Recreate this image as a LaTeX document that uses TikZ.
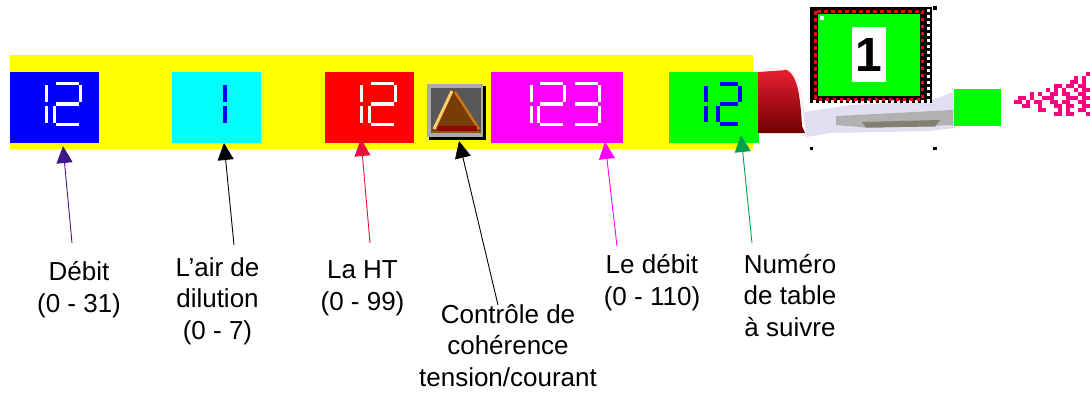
\documentclass[tikz,border=0pt]{standalone}
\usepackage{fontspec}
\setmainfont{Liberation Sans}
\usetikzlibrary{arrows.meta,calc}

\definecolor{bandyellow}{RGB}{255,255,0}
\definecolor{lcdblue}{RGB}{0,0,255}
\definecolor{lcdcyan}{RGB}{0,255,255}
\definecolor{lcdred}{RGB}{255,0,0}
\definecolor{lcdmagenta}{RGB}{255,0,255}
\definecolor{lcdgreen}{RGB}{0,255,0}
\definecolor{arrpurple}{RGB}{64,24,140}
\definecolor{arrred}{RGB}{230,16,60}
\definecolor{arrgreen}{RGB}{0,160,80}
\definecolor{pixpink}{RGB}{255,0,128}
\definecolor{btnlight}{RGB}{170,170,170}
\definecolor{btndark}{RGB}{88,88,88}
\definecolor{pyrbrown}{RGB}{122,60,6}
\definecolor{pyrlight}{RGB}{250,206,110}
\definecolor{pyrorange}{RGB}{200,120,24}
\definecolor{pyrred}{RGB}{150,0,0}
\definecolor{capred}{RGB}{232,30,50}
\definecolor{capdark}{RGB}{110,0,0}
\definecolor{penpale}{RGB}{226,221,240}
\definecolor{pengrey}{RGB}{178,176,176}
\definecolor{pendark}{RGB}{130,128,112}

% seven-segment display digits: cell height 44, width \lw, bar thickness \lt
\newcommand\lcdsega{\fill (\lt,0) rectangle (\lw-\lt,\lt);}
\newcommand\lcdsegb{\fill (\lw-\lt,\lt) rectangle (\lw,22-\lt/2);}
\newcommand\lcdsegc{\fill (\lw-\lt,22+\lt/2) rectangle (\lw,44-\lt);}
\newcommand\lcdsegd{\fill (\lt,44-\lt) rectangle (\lw-\lt,44);}
\newcommand\lcdsege{\fill (0,22+\lt/2) rectangle (\lt,44-\lt);}
\newcommand\lcdsegf{\fill (0,\lt) rectangle (\lt,22-\lt/2);}
\newcommand\lcdsegg{\fill (\lt,22-\lt/2) rectangle (\lw-\lt,22+\lt/2);}
% #1 left x, #2 width, #3 thickness, #4 segment list, #5 colour
\newcommand\lcddigit[5]{%
  \begin{scope}[shift={(#1,82)},fill=#5]
    \def\lw{#2}\def\lt{#3}%
    \foreach \s in {#4}{\csname lcdseg\s\endcsname}
  \end{scope}}

\begin{document}
\begin{tikzpicture}[x=1pt,y=-1pt,
  display/.style={draw=none,inner sep=0,minimum width=#1,minimum height=71},
  lbl/.style={anchor=base,align=center,inner sep=0,
    font=\fontsize{26}{31.5}\selectfont},
  arr/.style={line width=0.9pt,-{Triangle[length=17pt,width=16pt]}},
]
\useasboundingbox (0,0) rectangle (1090,392);

% yellow carrier band
\node[draw=none,fill=bandyellow,inner sep=0,minimum width=743,minimum height=94]
  (band) at (381.5,102) {};

% display windows
\node[display=89,fill=lcdblue]     (dBlue)  at (54.5,107.5) {};
\node[display=89,fill=lcdcyan]     (dCyan)  at (216.5,107.5) {};
\node[display=89,fill=lcdred]      (dRed)   at (369.5,107.5) {};
\node[display=132,fill=lcdmagenta] (dMag)   at (557,107.5) {};
\node[display=90,fill=lcdgreen]    (dGreen) at (714,107.5) {};

% digits
\lcddigit{19}{29}{3.4}{b,c}{white}
\lcddigit{53}{29}{3.4}{a,b,g,e,d}{white}
\lcddigit{197.7}{29}{3.4}{b,c}{lcdblue}
\lcddigit{334}{29}{3.4}{b,c}{white}
\lcddigit{368}{29}{3.4}{a,b,g,e,d}{white}
\lcddigit{504}{29}{3.4}{b,c}{white}
\lcddigit{537}{29}{3.4}{a,b,g,e,d}{white}
\lcddigit{572}{29}{3.4}{a,b,g,c,d}{white}
\lcddigit{682}{26}{4}{b,c}{lcdblue}
\lcddigit{716}{26}{4}{a,b,g,e,d}{lcdblue}

% coherence check button
\node[inner sep=0,minimum width=59,minimum height=56] (btn) at (456.5,112) {};
\fill[black] (429,86) rectangle (486,140);
\fill[btnlight] (427,84) rectangle (482.5,136.5);
\fill[btndark] (431,88) rectangle (481,133);
\fill[pyrbrown] (453,89) -- (481,131) -- (432,131) -- cycle;
\draw[pyrlight,line width=3pt] (452,91) -- (434,129);
\draw[pyrorange,line width=2.5pt] (455,92) -- (479,129);
\fill[pyrred] (438,126) rectangle (477,130.5);
\fill[pyrorange!70!black] (432,130.5) rectangle (481,133);

% pointer cursor: red cap and grey body
\shade[top color=capred,bottom color=capdark]
  (758,72) -- (787,70) .. controls (797,76) and (800,92) .. (802,126)
  -- (805,133) -- (758,133) -- cycle;
\draw[pink!30,line width=2pt] (762,69) -- (787,68.5) .. controls (798,74) and (802,92) .. (805,124);
\fill[penpale] (804,112) -- (850,105) -- (930,101) -- (953,92) -- (955,128)
  -- (930,131) -- (830,133) -- (806,137) -- cycle;
\fill[pengrey] (836,116) -- (953,110) -- (953,125) -- (870,128) -- (836,125) -- cycle;
\fill[pendark] (862,122) -- (940,120) -- (935,126.5) -- (866,127.5) -- cycle;

% table number badge
\node[fill=black,inner sep=0,minimum width=122,minimum height=96] (badge) at (871,55) {};
\draw[white,line width=3pt,dash pattern=on 3pt off 3pt] (928,9) -- (928,101) -- (812,101);
\draw[lcdred,line width=3pt,dash pattern=on 3.5pt off 3.5pt]
  (815.5,11) rectangle (922.5,99);
\node[fill=lcdgreen,inner sep=0,minimum width=102,minimum height=82] (badgeIn) at (869,55) {};
\fill[white] (820,16) rectangle (824,20);
\node[fill=white,inner sep=0,minimum width=34,minimum height=55,
  font=\fontsize{48}{48}\bfseries] (num) at (869,54.5) {1};
\fill[black] (933,6) rectangle (937,9.5);
\fill[black] (810,147) rectangle (813,150);
\fill[black] (933,147) rectangle (937,150);

% small green target and pink pixel trail
\node[fill=lcdgreen,inner sep=0,minimum width=47,minimum height=37] (target) at (977.5,107.5) {};
\foreach \r/\cols in {0/{18},1/{15,17},2/{14,15,17},3/{10,11,13,14,16,17},
    4/{8,10,12,15,17,18},5/{4,6,9,10,12,13,16,17},
    6/{1,2,4,7,8,9,13,14,15,17,18},7/{0,1,3,5,6,9,10,12,13,16,17},
    8/{2,3,6,10,11,13,14,17,18},9/{6,7,11,13,16,17},10/{10,11,13,14,18}}
  \foreach \c in \cols
    \fill[pixpink] (1014+4*\c,71.7+4*\r) rectangle ++(4,4);

% labels (anchored on the baseline of their last line)
\node[lbl] (lDebit)  at (79,312)    {Débit\\(0 - 31)};
\node[lbl] (lAir)    at (217.5,339) {L’air de\\dilution\\(0 - 7)};
\node[lbl] (lHT)     at (362.5,310) {La HT\\(0 - 99)};
\node[lbl] (lCtrl)   at (508,386)   {Contrôle de\\cohérence\\tension/courant};
\node[lbl] (lDebit2) at (652,305)   {Le débit\\(0 - 110)};
\node[lbl] (lTable)  at (790,336)   {Numéro\\de table\\à suivre};

% leader ends
\coordinate (sDebit)  at (72,243);
\coordinate (sAir)    at (234,245);
\coordinate (sHT)     at (370,243);
\coordinate (sCtrl)   at (498,305);
\coordinate (sDebit2) at (617,246);
\coordinate (sTable)  at (752,243);
\coordinate (tDebit)  at (63,146);
\coordinate (tAir)    at (224,143);
\coordinate (tHT)     at (361,139);
\coordinate (tCtrl)   at (459,141);
\coordinate (tDebit2) at (605,142);
\coordinate (tTable)  at (741,135);

% leaders
\draw[arr,arrpurple]  (sDebit)  -- (tDebit);
\draw[arr,black]      (sAir)    -- (tAir);
\draw[arr,arrred]     (sHT)     -- (tHT);
\draw[arr,black]      (sCtrl)   -- (tCtrl);
\draw[arr,lcdmagenta] (sDebit2) -- (tDebit2);
\draw[arr,arrgreen]   (sTable)  -- (tTable);
\end{tikzpicture}
\end{document}
